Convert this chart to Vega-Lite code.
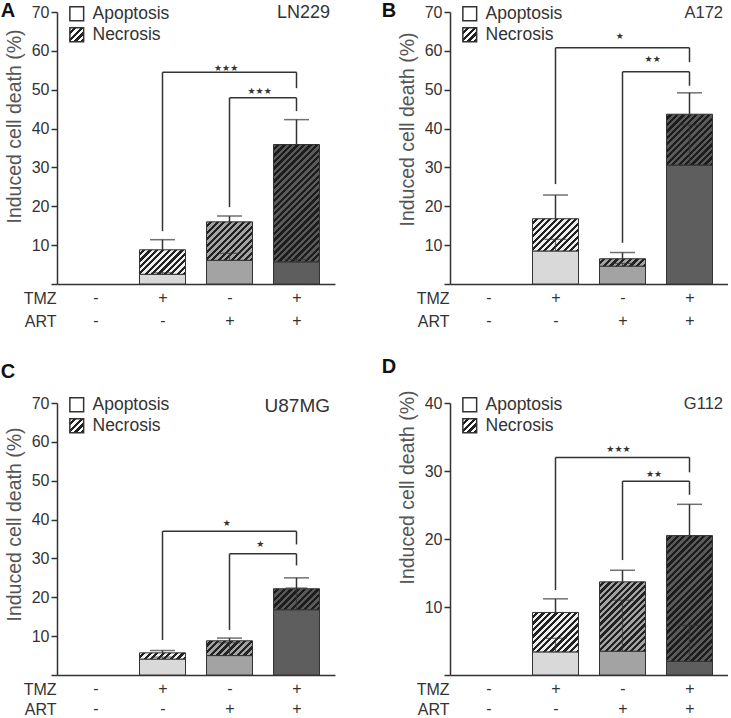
{
"$schema": "https://vega.github.io/schema/vega-lite/v6.json",
"padding": {"left": 0, "top": 1, "right": 0, "bottom": 0},
"bounds": "flush",
"columns": 2,
"spacing": {"row": 119, "column": 115},
"resolve": {"scale": {"shape": "independent"}},
"config": {
  "font": "Liberation Sans",
  "view": {"stroke": null},
  "axis": {"grid": false, "domainColor": "#333", "domainWidth": 1.5, "tickColor": "#333", "tickWidth": 1.5, "labelColor": "#333", "labelFontSize": 16, "titleColor": "#555", "titleFontWeight": "normal"},
  "axisX": {"ticks": false, "labelBaseline": "top", "labelPadding": 5, "labelLineHeight": 23, "labelFlush": false, "labelOverlap": false, "labelAngle": 0, "titleX": -1, "titleY": 6, "titleAlign": "right", "titleBaseline": "top", "titleAngle": 0, "titleFontSize": 16, "titleColor": "#333", "titleLineHeight": 23},
  "axisY": {"tickSize": 6, "labelPadding": 2, "labelOverlap": false, "labelFontSize": 16, "titleFontSize": 19.5, "titlePadding": 7},
  "legend": {"title": null, "orient": "none", "legendX": 11, "symbolSize": 190, "symbolType": "square", "symbolOpacity": 1, "labelFontSize": 17.5, "labelColor": "#333", "labelOffset": 7},
  "title": {"anchor": "start", "frame": "bounds", "fontSize": 20, "fontWeight": "bold", "color": "#111", "offset": 0, "baseline": "alphabetic"}
},
"datasets": {
  "bars": [
    {"panel":"A","x":2,"trt":"TMZ","apo":2.5,"tot":8.8,"et":11.4,"ie":2.9},
    {"panel":"A","x":3,"trt":"ART","apo":6.1,"tot":16.0,"et":17.5,"ie":7.9},
    {"panel":"A","x":4,"trt":"TMZ+ART","apo":5.7,"tot":35.9,"et":42.3,"ie":6.3},
    {"panel":"B","x":2,"trt":"TMZ","apo":8.5,"tot":16.8,"et":22.9,"ie":11.5},
    {"panel":"B","x":3,"trt":"ART","apo":4.6,"tot":6.5,"et":8.1,"ie":5.3},
    {"panel":"B","x":4,"trt":"TMZ+ART","apo":30.6,"tot":43.7,"et":49.2,"ie":40.9},
    {"panel":"C","x":2,"trt":"TMZ","apo":4.1,"tot":5.7,"et":6.3,"ie":4.6},
    {"panel":"C","x":3,"trt":"ART","apo":5.0,"tot":8.8,"et":9.5,"ie":8.3},
    {"panel":"C","x":4,"trt":"TMZ+ART","apo":16.8,"tot":22.2,"et":25.0,"ie":22.4},
    {"panel":"D","x":2,"trt":"TMZ","apo":3.4,"tot":9.2,"et":11.2,"ie":5.4},
    {"panel":"D","x":3,"trt":"ART","apo":3.5,"tot":13.7,"et":15.4,"ie":11.0},
    {"panel":"D","x":4,"trt":"TMZ+ART","apo":2.0,"tot":20.5,"et":25.1,"ie":7.3}
  ],
  "sig": [
    {"panel":"A","xa":2,"xb":4,"ya":13.6,"yb":50.4,"yh":54.5,"xm":2.95,"yl":55.7,"lab":"★★★"},
    {"panel":"A","xa":3,"xb":4,"ya":19.8,"yb":44.5,"yh":47.9,"xm":3.45,"yl":49.7,"lab":"★★★"},
    {"panel":"B","xa":2,"xb":4,"ya":25.7,"yb":57.1,"yh":60.8,"xm":2.96,"yl":63.8,"lab":"★"},
    {"panel":"B","xa":3,"xb":4,"ya":10.6,"yb":51.0,"yh":54.6,"xm":3.45,"yl":57.8,"lab":"★★"},
    {"panel":"C","xa":2,"xb":4,"ya":9.0,"yb":33.6,"yh":37.0,"xm":2.96,"yl":39.0,"lab":"★"},
    {"panel":"C","xa":3,"xb":4,"ya":11.6,"yb":28.2,"yh":31.2,"xm":3.46,"yl":33.6,"lab":"★"},
    {"panel":"D","xa":2,"xb":4,"ya":12.5,"yb":29.8,"yh":32.0,"xm":2.94,"yl":33.2,"lab":"★★★"},
    {"panel":"D","xa":3,"xb":4,"ya":16.9,"yb":26.5,"yh":28.5,"xm":3.47,"yl":29.6,"lab":"★★"}
  ],
  "cells": [
    {"panel":"A","cell":"LN229"},
    {"panel":"B","cell":"A172"},
    {"panel":"C","cell":"U87MG"},
    {"panel":"D","cell":"G112"}
  ],
  "key": [{"type":"Apoptosis"},{"type":"Necrosis"}]
},
"concat": [
{
  "title": {"text": "A", "dx": -3.5, "dy": 21},
  "width": 278, "height": 272,
  "resolve": {"scale": {"shape": "independent"}},
  "layer": [
    {
      "data": {"name": "bars"},
      "transform": [{"filter": "datum.panel == 'A'"}],
      "encoding": {"x": {"field": "x", "type": "quantitative", "scale": {"domain": [0.5, 4.5], "nice": false}, "axis": {"values": [1,2,3,4], "labelExpr": "datum.value == 1 ? ['-','-'] : datum.value == 2 ? ['+','-'] : datum.value == 3 ? ['-','+'] : ['+','+']", "title": ["TMZ","ART"]}}},
      "layer": [
        {"mark": {"type":"bar","width":46,"stroke":"#333","strokeWidth":1}, "encoding": {"y": {"field":"apo","type":"quantitative","scale":{"domain":[0,70],"nice":false},"axis":{"values":[0,10,20,30,40,50,60,70],"tickCount":10,"labelOverlap":false,"labelExpr":"datum.value == 0 ? '' : datum.label","title":"Induced cell death (%)","titleY":114}}, "color": {"field":"trt","type":"nominal","scale":{"domain":["TMZ","ART","TMZ+ART"],"range":["#d9d9d9","#a3a3a3","#5e5e5e"]},"legend":null}}},
        {"transform":[{"filter":"datum.trt == 'TMZ'"}], "mark": {"type":"bar","width":46,"stroke":"#333","strokeWidth":1,"fill":{"gradient":"linear","x1":0,"y1":0,"x2":1.194,"y2":0.635,"stops":[
{"offset":0,"color":"#eee"},
{"offset":0.0455,"color":"#eee"},{"offset":0.0455,"color":"#222"},
{"offset":0.0909,"color":"#222"},{"offset":0.0909,"color":"#eee"},
{"offset":0.1364,"color":"#eee"},{"offset":0.1364,"color":"#222"},
{"offset":0.1818,"color":"#222"},{"offset":0.1818,"color":"#eee"},
{"offset":0.2273,"color":"#eee"},{"offset":0.2273,"color":"#222"},
{"offset":0.2727,"color":"#222"},{"offset":0.2727,"color":"#eee"},
{"offset":0.3182,"color":"#eee"},{"offset":0.3182,"color":"#222"},
{"offset":0.3636,"color":"#222"},{"offset":0.3636,"color":"#eee"},
{"offset":0.4091,"color":"#eee"},{"offset":0.4091,"color":"#222"},
{"offset":0.4545,"color":"#222"},{"offset":0.4545,"color":"#eee"},
{"offset":0.5,"color":"#eee"},{"offset":0.5,"color":"#222"},
{"offset":0.5455,"color":"#222"},{"offset":0.5455,"color":"#eee"},
{"offset":0.5909,"color":"#eee"},{"offset":0.5909,"color":"#222"},
{"offset":0.6364,"color":"#222"},{"offset":0.6364,"color":"#eee"},
{"offset":0.6818,"color":"#eee"},{"offset":0.6818,"color":"#222"},
{"offset":0.7273,"color":"#222"},{"offset":0.7273,"color":"#eee"},
{"offset":0.7727,"color":"#eee"},{"offset":0.7727,"color":"#222"},
{"offset":0.8182,"color":"#222"},{"offset":0.8182,"color":"#eee"},
{"offset":0.8636,"color":"#eee"},{"offset":0.8636,"color":"#222"},
{"offset":0.9091,"color":"#222"},{"offset":0.9091,"color":"#eee"},
{"offset":0.9545,"color":"#eee"},{"offset":0.9545,"color":"#222"},
{"offset":1,"color":"#222"}]}}, "encoding": {"y":{"field":"tot","type":"quantitative"},"y2":{"field":"apo"}}},
        {"transform":[{"filter":"datum.trt == 'ART'"}], "mark": {"type":"bar","width":46,"stroke":"#333","strokeWidth":1,"fill":{"gradient":"linear","x1":0,"y1":0,"x2":1.081,"y2":0.904,"stops":[
{"offset":0,"color":"#a3a3a3"},
{"offset":0.0385,"color":"#a3a3a3"},{"offset":0.0385,"color":"#222"},
{"offset":0.0769,"color":"#222"},{"offset":0.0769,"color":"#a3a3a3"},
{"offset":0.1154,"color":"#a3a3a3"},{"offset":0.1154,"color":"#222"},
{"offset":0.1538,"color":"#222"},{"offset":0.1538,"color":"#a3a3a3"},
{"offset":0.1923,"color":"#a3a3a3"},{"offset":0.1923,"color":"#222"},
{"offset":0.2308,"color":"#222"},{"offset":0.2308,"color":"#a3a3a3"},
{"offset":0.2692,"color":"#a3a3a3"},{"offset":0.2692,"color":"#222"},
{"offset":0.3077,"color":"#222"},{"offset":0.3077,"color":"#a3a3a3"},
{"offset":0.3462,"color":"#a3a3a3"},{"offset":0.3462,"color":"#222"},
{"offset":0.3846,"color":"#222"},{"offset":0.3846,"color":"#a3a3a3"},
{"offset":0.4231,"color":"#a3a3a3"},{"offset":0.4231,"color":"#222"},
{"offset":0.4615,"color":"#222"},{"offset":0.4615,"color":"#a3a3a3"},
{"offset":0.5,"color":"#a3a3a3"},{"offset":0.5,"color":"#222"},
{"offset":0.5385,"color":"#222"},{"offset":0.5385,"color":"#a3a3a3"},
{"offset":0.5769,"color":"#a3a3a3"},{"offset":0.5769,"color":"#222"},
{"offset":0.6154,"color":"#222"},{"offset":0.6154,"color":"#a3a3a3"},
{"offset":0.6538,"color":"#a3a3a3"},{"offset":0.6538,"color":"#222"},
{"offset":0.6923,"color":"#222"},{"offset":0.6923,"color":"#a3a3a3"},
{"offset":0.7308,"color":"#a3a3a3"},{"offset":0.7308,"color":"#222"},
{"offset":0.7692,"color":"#222"},{"offset":0.7692,"color":"#a3a3a3"},
{"offset":0.8077,"color":"#a3a3a3"},{"offset":0.8077,"color":"#222"},
{"offset":0.8462,"color":"#222"},{"offset":0.8462,"color":"#a3a3a3"},
{"offset":0.8846,"color":"#a3a3a3"},{"offset":0.8846,"color":"#222"},
{"offset":0.9231,"color":"#222"},{"offset":0.9231,"color":"#a3a3a3"},
{"offset":0.9615,"color":"#a3a3a3"},{"offset":0.9615,"color":"#222"},
{"offset":1,"color":"#222"}]}}, "encoding": {"y":{"field":"tot","type":"quantitative"},"y2":{"field":"apo"}}},
        {"transform":[{"filter":"datum.trt == 'TMZ+ART'"}], "mark": {"type":"bar","width":46,"stroke":"#333","strokeWidth":1,"fill":{"gradient":"linear","x1":0,"y1":0,"x2":0.473,"y2":1.207,"stops":[
{"offset":0,"color":"#5a5a5a"},
{"offset":0.02,"color":"#5a5a5a"},{"offset":0.02,"color":"#1c1c1c"},
{"offset":0.04,"color":"#1c1c1c"},{"offset":0.04,"color":"#5a5a5a"},
{"offset":0.06,"color":"#5a5a5a"},{"offset":0.06,"color":"#1c1c1c"},
{"offset":0.08,"color":"#1c1c1c"},{"offset":0.08,"color":"#5a5a5a"},
{"offset":0.10,"color":"#5a5a5a"},{"offset":0.10,"color":"#1c1c1c"},
{"offset":0.12,"color":"#1c1c1c"},{"offset":0.12,"color":"#5a5a5a"},
{"offset":0.14,"color":"#5a5a5a"},{"offset":0.14,"color":"#1c1c1c"},
{"offset":0.16,"color":"#1c1c1c"},{"offset":0.16,"color":"#5a5a5a"},
{"offset":0.18,"color":"#5a5a5a"},{"offset":0.18,"color":"#1c1c1c"},
{"offset":0.20,"color":"#1c1c1c"},{"offset":0.20,"color":"#5a5a5a"},
{"offset":0.22,"color":"#5a5a5a"},{"offset":0.22,"color":"#1c1c1c"},
{"offset":0.24,"color":"#1c1c1c"},{"offset":0.24,"color":"#5a5a5a"},
{"offset":0.26,"color":"#5a5a5a"},{"offset":0.26,"color":"#1c1c1c"},
{"offset":0.28,"color":"#1c1c1c"},{"offset":0.28,"color":"#5a5a5a"},
{"offset":0.30,"color":"#5a5a5a"},{"offset":0.30,"color":"#1c1c1c"},
{"offset":0.32,"color":"#1c1c1c"},{"offset":0.32,"color":"#5a5a5a"},
{"offset":0.34,"color":"#5a5a5a"},{"offset":0.34,"color":"#1c1c1c"},
{"offset":0.36,"color":"#1c1c1c"},{"offset":0.36,"color":"#5a5a5a"},
{"offset":0.38,"color":"#5a5a5a"},{"offset":0.38,"color":"#1c1c1c"},
{"offset":0.40,"color":"#1c1c1c"},{"offset":0.40,"color":"#5a5a5a"},
{"offset":0.42,"color":"#5a5a5a"},{"offset":0.42,"color":"#1c1c1c"},
{"offset":0.44,"color":"#1c1c1c"},{"offset":0.44,"color":"#5a5a5a"},
{"offset":0.46,"color":"#5a5a5a"},{"offset":0.46,"color":"#1c1c1c"},
{"offset":0.48,"color":"#1c1c1c"},{"offset":0.48,"color":"#5a5a5a"},
{"offset":0.50,"color":"#5a5a5a"},{"offset":0.50,"color":"#1c1c1c"},
{"offset":0.52,"color":"#1c1c1c"},{"offset":0.52,"color":"#5a5a5a"},
{"offset":0.54,"color":"#5a5a5a"},{"offset":0.54,"color":"#1c1c1c"},
{"offset":0.56,"color":"#1c1c1c"},{"offset":0.56,"color":"#5a5a5a"},
{"offset":0.58,"color":"#5a5a5a"},{"offset":0.58,"color":"#1c1c1c"},
{"offset":0.60,"color":"#1c1c1c"},{"offset":0.60,"color":"#5a5a5a"},
{"offset":0.62,"color":"#5a5a5a"},{"offset":0.62,"color":"#1c1c1c"},
{"offset":0.64,"color":"#1c1c1c"},{"offset":0.64,"color":"#5a5a5a"},
{"offset":0.66,"color":"#5a5a5a"},{"offset":0.66,"color":"#1c1c1c"},
{"offset":0.68,"color":"#1c1c1c"},{"offset":0.68,"color":"#5a5a5a"},
{"offset":0.70,"color":"#5a5a5a"},{"offset":0.70,"color":"#1c1c1c"},
{"offset":0.72,"color":"#1c1c1c"},{"offset":0.72,"color":"#5a5a5a"},
{"offset":0.74,"color":"#5a5a5a"},{"offset":0.74,"color":"#1c1c1c"},
{"offset":0.76,"color":"#1c1c1c"},{"offset":0.76,"color":"#5a5a5a"},
{"offset":0.78,"color":"#5a5a5a"},{"offset":0.78,"color":"#1c1c1c"},
{"offset":0.80,"color":"#1c1c1c"},{"offset":0.80,"color":"#5a5a5a"},
{"offset":0.82,"color":"#5a5a5a"},{"offset":0.82,"color":"#1c1c1c"},
{"offset":0.84,"color":"#1c1c1c"},{"offset":0.84,"color":"#5a5a5a"},
{"offset":0.86,"color":"#5a5a5a"},{"offset":0.86,"color":"#1c1c1c"},
{"offset":0.88,"color":"#1c1c1c"},{"offset":0.88,"color":"#5a5a5a"},
{"offset":0.90,"color":"#5a5a5a"},{"offset":0.90,"color":"#1c1c1c"},
{"offset":0.92,"color":"#1c1c1c"},{"offset":0.92,"color":"#5a5a5a"},
{"offset":0.94,"color":"#5a5a5a"},{"offset":0.94,"color":"#1c1c1c"},
{"offset":0.96,"color":"#1c1c1c"},{"offset":0.96,"color":"#5a5a5a"},
{"offset":0.98,"color":"#5a5a5a"},{"offset":0.98,"color":"#1c1c1c"},
{"offset":1,"color":"#1c1c1c"}]}}, "encoding": {"y":{"field":"tot","type":"quantitative"},"y2":{"field":"apo"}}},
        {"mark": {"type":"rule","color":"#333","strokeWidth":1.2,"opacity":0.7}, "encoding": {"y":{"field":"apo","type":"quantitative"},"y2":{"field":"ie"}}},
        {"mark": {"type":"tick","orient":"horizontal","size":22,"thickness":1.2,"color":"#333","opacity":0.7}, "encoding": {"y":{"field":"ie","type":"quantitative"}}},
        {"mark": {"type":"rule","color":"#333","strokeWidth":1.5}, "encoding": {"y":{"field":"tot","type":"quantitative"},"y2":{"field":"et"}}},
        {"mark": {"type":"tick","orient":"horizontal","size":25,"thickness":1.5,"color":"#333"}, "encoding": {"y":{"field":"et","type":"quantitative"}}}
      ]
    },
    {
      "data": {"name": "sig"},
      "transform": [{"filter": "datum.panel == 'A'"}],
      "layer": [
        {"mark": {"type":"rule","color":"#333","strokeWidth":1.5}, "encoding": {"x":{"field":"xa","type":"quantitative"},"y":{"field":"ya","type":"quantitative"},"y2":{"field":"yh"}}},
        {"mark": {"type":"rule","color":"#333","strokeWidth":1.5}, "encoding": {"x":{"field":"xb","type":"quantitative"},"y":{"field":"yb","type":"quantitative"},"y2":{"field":"yh"}}},
        {"mark": {"type":"rule","color":"#333","strokeWidth":1.5}, "encoding": {"x":{"field":"xa","type":"quantitative"},"x2":{"field":"xb"},"y":{"field":"yh","type":"quantitative"}}},
        {"mark": {"type":"text","font":"DejaVu Sans","fontSize":9,"color":"#333","baseline":"middle"}, "encoding": {"x":{"field":"xm","type":"quantitative"},"y":{"field":"yl","type":"quantitative"},"text":{"field":"lab"}}}
      ]
    },
    {"data": {"name":"cells"}, "transform": [{"filter": "datum.panel == 'A'"}], "mark": {"type":"text","align":"right","baseline":"middle","fontSize":18,"color":"#333","dy":1}, "encoding": {"x":{"datum":4.5,"type":"quantitative"},"y":{"datum":70,"type":"quantitative"},"text":{"field":"cell"}}},
    {"data": {"name":"key"}, "transform":[{"filter":"false"}], "mark": {"type":"point","shape":"square","filled":true,"opacity":1,"fill":"#ffffff","stroke":"#333","strokeWidth":1}, "encoding": {"shape": {"field":"type","type":"nominal","scale":{"domain":["Apoptosis"],"range":["square"]},"legend":{"legendY":-7}}}},
    {"data": {"name":"key"}, "transform":[{"filter":"false"}], "mark": {"type":"point","shape":"square","filled":true,"opacity":1,"stroke":"#333","strokeWidth":1,"fill":{"gradient":"linear","x1":0,"y1":0,"x2":1,"y2":1,"stops":[
{"offset":0,"color":"#fff"},
{"offset":0.125,"color":"#fff"},{"offset":0.125,"color":"#222"},
{"offset":0.25,"color":"#222"},{"offset":0.25,"color":"#fff"},
{"offset":0.375,"color":"#fff"},{"offset":0.375,"color":"#222"},
{"offset":0.5,"color":"#222"},{"offset":0.5,"color":"#fff"},
{"offset":0.625,"color":"#fff"},{"offset":0.625,"color":"#222"},
{"offset":0.75,"color":"#222"},{"offset":0.75,"color":"#fff"},
{"offset":0.875,"color":"#fff"},{"offset":0.875,"color":"#222"},
{"offset":1,"color":"#222"}]}}, "encoding": {"shape": {"field":"type","type":"nominal","scale":{"domain":["Necrosis"],"range":["square"]},"legend":{"legendY":14}}}}
  ]
},
{
  "title": {"text": "B", "dx": -15.5, "dy": 21},
  "width": 278, "height": 272,
  "resolve": {"scale": {"shape": "independent"}},
  "layer": [
    {
      "data": {"name": "bars"},
      "transform": [{"filter": "datum.panel == 'B'"}],
      "encoding": {"x": {"field": "x", "type": "quantitative", "scale": {"domain": [0.5, 4.5], "nice": false}, "axis": {"values": [1,2,3,4], "labelExpr": "datum.value == 1 ? ['-','-'] : datum.value == 2 ? ['+','-'] : datum.value == 3 ? ['-','+'] : ['+','+']", "title": ["TMZ","ART"]}}},
      "layer": [
        {"mark": {"type":"bar","width":46,"stroke":"#333","strokeWidth":1}, "encoding": {"y": {"field":"apo","type":"quantitative","scale":{"domain":[0,70],"nice":false},"axis":{"values":[0,10,20,30,40,50,60,70],"tickCount":10,"labelOverlap":false,"labelExpr":"datum.value == 0 ? '' : datum.label","title":"Induced cell death (%)","titleY":117}}, "color": {"field":"trt","type":"nominal","scale":{"domain":["TMZ","ART","TMZ+ART"],"range":["#d9d9d9","#a3a3a3","#5e5e5e"]},"legend":null}}},
        {"transform":[{"filter":"datum.trt == 'TMZ'"}], "mark": {"type":"bar","width":46,"stroke":"#333","strokeWidth":1,"fill":{"gradient":"linear","x1":0,"y1":0,"x2":1.141,"y2":0.800,"stops":[
{"offset":0,"color":"#eee"},
{"offset":0.0417,"color":"#eee"},{"offset":0.0417,"color":"#222"},
{"offset":0.0833,"color":"#222"},{"offset":0.0833,"color":"#eee"},
{"offset":0.125,"color":"#eee"},{"offset":0.125,"color":"#222"},
{"offset":0.1667,"color":"#222"},{"offset":0.1667,"color":"#eee"},
{"offset":0.2083,"color":"#eee"},{"offset":0.2083,"color":"#222"},
{"offset":0.25,"color":"#222"},{"offset":0.25,"color":"#eee"},
{"offset":0.2917,"color":"#eee"},{"offset":0.2917,"color":"#222"},
{"offset":0.3333,"color":"#222"},{"offset":0.3333,"color":"#eee"},
{"offset":0.375,"color":"#eee"},{"offset":0.375,"color":"#222"},
{"offset":0.4167,"color":"#222"},{"offset":0.4167,"color":"#eee"},
{"offset":0.4583,"color":"#eee"},{"offset":0.4583,"color":"#222"},
{"offset":0.5,"color":"#222"},{"offset":0.5,"color":"#eee"},
{"offset":0.5417,"color":"#eee"},{"offset":0.5417,"color":"#222"},
{"offset":0.5833,"color":"#222"},{"offset":0.5833,"color":"#eee"},
{"offset":0.625,"color":"#eee"},{"offset":0.625,"color":"#222"},
{"offset":0.6667,"color":"#222"},{"offset":0.6667,"color":"#eee"},
{"offset":0.7083,"color":"#eee"},{"offset":0.7083,"color":"#222"},
{"offset":0.75,"color":"#222"},{"offset":0.75,"color":"#eee"},
{"offset":0.7917,"color":"#eee"},{"offset":0.7917,"color":"#222"},
{"offset":0.8333,"color":"#222"},{"offset":0.8333,"color":"#eee"},
{"offset":0.875,"color":"#eee"},{"offset":0.875,"color":"#222"},
{"offset":0.9167,"color":"#222"},{"offset":0.9167,"color":"#eee"},
{"offset":0.9583,"color":"#eee"},{"offset":0.9583,"color":"#222"},
{"offset":1,"color":"#222"}]}}, "encoding": {"y":{"field":"tot","type":"quantitative"},"y2":{"field":"apo"}}},
        {"transform":[{"filter":"datum.trt == 'ART'"}], "mark": {"type":"bar","width":46,"stroke":"#333","strokeWidth":1,"fill":{"gradient":"linear","x1":0,"y1":0,"x2":1.131,"y2":0.182,"stops":[
{"offset":0,"color":"#a3a3a3"},
{"offset":0.0625,"color":"#a3a3a3"},{"offset":0.0625,"color":"#222"},
{"offset":0.125,"color":"#222"},{"offset":0.125,"color":"#a3a3a3"},
{"offset":0.1875,"color":"#a3a3a3"},{"offset":0.1875,"color":"#222"},
{"offset":0.25,"color":"#222"},{"offset":0.25,"color":"#a3a3a3"},
{"offset":0.3125,"color":"#a3a3a3"},{"offset":0.3125,"color":"#222"},
{"offset":0.375,"color":"#222"},{"offset":0.375,"color":"#a3a3a3"},
{"offset":0.4375,"color":"#a3a3a3"},{"offset":0.4375,"color":"#222"},
{"offset":0.5,"color":"#222"},{"offset":0.5,"color":"#a3a3a3"},
{"offset":0.5625,"color":"#a3a3a3"},{"offset":0.5625,"color":"#222"},
{"offset":0.625,"color":"#222"},{"offset":0.625,"color":"#a3a3a3"},
{"offset":0.6875,"color":"#a3a3a3"},{"offset":0.6875,"color":"#222"},
{"offset":0.75,"color":"#222"},{"offset":0.75,"color":"#a3a3a3"},
{"offset":0.8125,"color":"#a3a3a3"},{"offset":0.8125,"color":"#222"},
{"offset":0.875,"color":"#222"},{"offset":0.875,"color":"#a3a3a3"},
{"offset":0.9375,"color":"#a3a3a3"},{"offset":0.9375,"color":"#222"},
{"offset":1,"color":"#222"}]}}, "encoding": {"y":{"field":"tot","type":"quantitative"},"y2":{"field":"apo"}}},
        {"transform":[{"filter":"datum.trt == 'TMZ+ART'"}], "mark": {"type":"bar","width":46,"stroke":"#333","strokeWidth":1,"fill":{"gradient":"linear","x1":0,"y1":0,"x2":0.947,"y2":1.048,"stops":[
{"offset":0,"color":"#5a5a5a"},
{"offset":0.0333,"color":"#5a5a5a"},{"offset":0.0333,"color":"#1c1c1c"},
{"offset":0.0667,"color":"#1c1c1c"},{"offset":0.0667,"color":"#5a5a5a"},
{"offset":0.1,"color":"#5a5a5a"},{"offset":0.1,"color":"#1c1c1c"},
{"offset":0.1333,"color":"#1c1c1c"},{"offset":0.1333,"color":"#5a5a5a"},
{"offset":0.1667,"color":"#5a5a5a"},{"offset":0.1667,"color":"#1c1c1c"},
{"offset":0.2,"color":"#1c1c1c"},{"offset":0.2,"color":"#5a5a5a"},
{"offset":0.2333,"color":"#5a5a5a"},{"offset":0.2333,"color":"#1c1c1c"},
{"offset":0.2667,"color":"#1c1c1c"},{"offset":0.2667,"color":"#5a5a5a"},
{"offset":0.3,"color":"#5a5a5a"},{"offset":0.3,"color":"#1c1c1c"},
{"offset":0.3333,"color":"#1c1c1c"},{"offset":0.3333,"color":"#5a5a5a"},
{"offset":0.3667,"color":"#5a5a5a"},{"offset":0.3667,"color":"#1c1c1c"},
{"offset":0.4,"color":"#1c1c1c"},{"offset":0.4,"color":"#5a5a5a"},
{"offset":0.4333,"color":"#5a5a5a"},{"offset":0.4333,"color":"#1c1c1c"},
{"offset":0.4667,"color":"#1c1c1c"},{"offset":0.4667,"color":"#5a5a5a"},
{"offset":0.5,"color":"#5a5a5a"},{"offset":0.5,"color":"#1c1c1c"},
{"offset":0.5333,"color":"#1c1c1c"},{"offset":0.5333,"color":"#5a5a5a"},
{"offset":0.5667,"color":"#5a5a5a"},{"offset":0.5667,"color":"#1c1c1c"},
{"offset":0.6,"color":"#1c1c1c"},{"offset":0.6,"color":"#5a5a5a"},
{"offset":0.6333,"color":"#5a5a5a"},{"offset":0.6333,"color":"#1c1c1c"},
{"offset":0.6667,"color":"#1c1c1c"},{"offset":0.6667,"color":"#5a5a5a"},
{"offset":0.7,"color":"#5a5a5a"},{"offset":0.7,"color":"#1c1c1c"},
{"offset":0.7333,"color":"#1c1c1c"},{"offset":0.7333,"color":"#5a5a5a"},
{"offset":0.7667,"color":"#5a5a5a"},{"offset":0.7667,"color":"#1c1c1c"},
{"offset":0.8,"color":"#1c1c1c"},{"offset":0.8,"color":"#5a5a5a"},
{"offset":0.8333,"color":"#5a5a5a"},{"offset":0.8333,"color":"#1c1c1c"},
{"offset":0.8667,"color":"#1c1c1c"},{"offset":0.8667,"color":"#5a5a5a"},
{"offset":0.9,"color":"#5a5a5a"},{"offset":0.9,"color":"#1c1c1c"},
{"offset":0.9333,"color":"#1c1c1c"},{"offset":0.9333,"color":"#5a5a5a"},
{"offset":0.9667,"color":"#5a5a5a"},{"offset":0.9667,"color":"#1c1c1c"},
{"offset":1,"color":"#1c1c1c"}]}}, "encoding": {"y":{"field":"tot","type":"quantitative"},"y2":{"field":"apo"}}},
        {"mark": {"type":"rule","color":"#333","strokeWidth":1.2,"opacity":0.7}, "encoding": {"y":{"field":"apo","type":"quantitative"},"y2":{"field":"ie"}}},
        {"mark": {"type":"tick","orient":"horizontal","size":22,"thickness":1.2,"color":"#333","opacity":0.7}, "encoding": {"y":{"field":"ie","type":"quantitative"}}},
        {"mark": {"type":"rule","color":"#333","strokeWidth":1.5}, "encoding": {"y":{"field":"tot","type":"quantitative"},"y2":{"field":"et"}}},
        {"mark": {"type":"tick","orient":"horizontal","size":25,"thickness":1.5,"color":"#333"}, "encoding": {"y":{"field":"et","type":"quantitative"}}}
      ]
    },
    {
      "data": {"name": "sig"},
      "transform": [{"filter": "datum.panel == 'B'"}],
      "layer": [
        {"mark": {"type":"rule","color":"#333","strokeWidth":1.5}, "encoding": {"x":{"field":"xa","type":"quantitative"},"y":{"field":"ya","type":"quantitative"},"y2":{"field":"yh"}}},
        {"mark": {"type":"rule","color":"#333","strokeWidth":1.5}, "encoding": {"x":{"field":"xb","type":"quantitative"},"y":{"field":"yb","type":"quantitative"},"y2":{"field":"yh"}}},
        {"mark": {"type":"rule","color":"#333","strokeWidth":1.5}, "encoding": {"x":{"field":"xa","type":"quantitative"},"x2":{"field":"xb"},"y":{"field":"yh","type":"quantitative"}}},
        {"mark": {"type":"text","font":"DejaVu Sans","fontSize":9,"color":"#333","baseline":"middle"}, "encoding": {"x":{"field":"xm","type":"quantitative"},"y":{"field":"yl","type":"quantitative"},"text":{"field":"lab"}}}
      ]
    },
    {"data": {"name":"cells"}, "transform": [{"filter": "datum.panel == 'B'"}], "mark": {"type":"text","align":"right","baseline":"middle","fontSize":16.5,"color":"#333","dy":1}, "encoding": {"x":{"datum":4.5,"type":"quantitative"},"y":{"datum":70,"type":"quantitative"},"text":{"field":"cell"}}},
    {"data": {"name":"key"}, "transform":[{"filter":"false"}], "mark": {"type":"point","shape":"square","filled":true,"opacity":1,"fill":"#ffffff","stroke":"#333","strokeWidth":1}, "encoding": {"shape": {"field":"type","type":"nominal","scale":{"domain":["Apoptosis"],"range":["square"]},"legend":{"legendY":-7}}}},
    {"data": {"name":"key"}, "transform":[{"filter":"false"}], "mark": {"type":"point","shape":"square","filled":true,"opacity":1,"stroke":"#333","strokeWidth":1,"fill":{"gradient":"linear","x1":0,"y1":0,"x2":1,"y2":1,"stops":[
{"offset":0,"color":"#fff"},
{"offset":0.125,"color":"#fff"},{"offset":0.125,"color":"#222"},
{"offset":0.25,"color":"#222"},{"offset":0.25,"color":"#fff"},
{"offset":0.375,"color":"#fff"},{"offset":0.375,"color":"#222"},
{"offset":0.5,"color":"#222"},{"offset":0.5,"color":"#fff"},
{"offset":0.625,"color":"#fff"},{"offset":0.625,"color":"#222"},
{"offset":0.75,"color":"#222"},{"offset":0.75,"color":"#fff"},
{"offset":0.875,"color":"#fff"},{"offset":0.875,"color":"#222"},
{"offset":1,"color":"#222"}]}}, "encoding": {"shape": {"field":"type","type":"nominal","scale":{"domain":["Necrosis"],"range":["square"]},"legend":{"legendY":14}}}}
  ]
},
{
  "title": {"text": "C", "dx": -3.5, "offset": 13},
  "width": 278, "height": 272,
  "resolve": {"scale": {"shape": "independent"}},
  "layer": [
    {
      "data": {"name": "bars"},
      "transform": [{"filter": "datum.panel == 'C'"}],
      "encoding": {"x": {"field": "x", "type": "quantitative", "scale": {"domain": [0.5, 4.5], "nice": false}, "axis": {"values": [1,2,3,4], "labelLineHeight": 20, "titleLineHeight": 20, "labelExpr": "datum.value == 1 ? ['-','-'] : datum.value == 2 ? ['+','-'] : datum.value == 3 ? ['-','+'] : ['+','+']", "title": ["TMZ","ART"]}}},
      "layer": [
        {"mark": {"type":"bar","width":46,"stroke":"#333","strokeWidth":1}, "encoding": {"y": {"field":"apo","type":"quantitative","scale":{"domain":[0,70],"nice":false},"axis":{"values":[0,10,20,30,40,50,60,70],"tickCount":10,"labelOverlap":false,"labelExpr":"datum.value == 0 ? '' : datum.label","title":"Induced cell death (%)","titleY":121}}, "color": {"field":"trt","type":"nominal","scale":{"domain":["TMZ","ART","TMZ+ART"],"range":["#d9d9d9","#a3a3a3","#5e5e5e"]},"legend":null}}},
        {"transform":[{"filter":"datum.trt == 'TMZ'"}], "mark": {"type":"bar","width":46,"stroke":"#333","strokeWidth":1,"fill":{"gradient":"linear","x1":0,"y1":0,"x2":1.115,"y2":0.151,"stops":[
{"offset":0,"color":"#eee"},
{"offset":0.0625,"color":"#eee"},{"offset":0.0625,"color":"#222"},
{"offset":0.125,"color":"#222"},{"offset":0.125,"color":"#eee"},
{"offset":0.1875,"color":"#eee"},{"offset":0.1875,"color":"#222"},
{"offset":0.25,"color":"#222"},{"offset":0.25,"color":"#eee"},
{"offset":0.3125,"color":"#eee"},{"offset":0.3125,"color":"#222"},
{"offset":0.375,"color":"#222"},{"offset":0.375,"color":"#eee"},
{"offset":0.4375,"color":"#eee"},{"offset":0.4375,"color":"#222"},
{"offset":0.5,"color":"#222"},{"offset":0.5,"color":"#eee"},
{"offset":0.5625,"color":"#eee"},{"offset":0.5625,"color":"#222"},
{"offset":0.625,"color":"#222"},{"offset":0.625,"color":"#eee"},
{"offset":0.6875,"color":"#eee"},{"offset":0.6875,"color":"#222"},
{"offset":0.75,"color":"#222"},{"offset":0.75,"color":"#eee"},
{"offset":0.8125,"color":"#eee"},{"offset":0.8125,"color":"#222"},
{"offset":0.875,"color":"#222"},{"offset":0.875,"color":"#eee"},
{"offset":0.9375,"color":"#eee"},{"offset":0.9375,"color":"#222"},
{"offset":1,"color":"#222"}]}}, "encoding": {"y":{"field":"tot","type":"quantitative"},"y2":{"field":"apo"}}},
        {"transform":[{"filter":"datum.trt == 'ART'"}], "mark": {"type":"bar","width":46,"stroke":"#333","strokeWidth":1,"fill":{"gradient":"linear","x1":0,"y1":0,"x2":1.198,"y2":0.385,"stops":[
{"offset":0,"color":"#a3a3a3"},
{"offset":0.0556,"color":"#a3a3a3"},{"offset":0.0556,"color":"#222"},
{"offset":0.1111,"color":"#222"},{"offset":0.1111,"color":"#a3a3a3"},
{"offset":0.1667,"color":"#a3a3a3"},{"offset":0.1667,"color":"#222"},
{"offset":0.2222,"color":"#222"},{"offset":0.2222,"color":"#a3a3a3"},
{"offset":0.2778,"color":"#a3a3a3"},{"offset":0.2778,"color":"#222"},
{"offset":0.3333,"color":"#222"},{"offset":0.3333,"color":"#a3a3a3"},
{"offset":0.3889,"color":"#a3a3a3"},{"offset":0.3889,"color":"#222"},
{"offset":0.4444,"color":"#222"},{"offset":0.4444,"color":"#a3a3a3"},
{"offset":0.5,"color":"#a3a3a3"},{"offset":0.5,"color":"#222"},
{"offset":0.5556,"color":"#222"},{"offset":0.5556,"color":"#a3a3a3"},
{"offset":0.6111,"color":"#a3a3a3"},{"offset":0.6111,"color":"#222"},
{"offset":0.6667,"color":"#222"},{"offset":0.6667,"color":"#a3a3a3"},
{"offset":0.7222,"color":"#a3a3a3"},{"offset":0.7222,"color":"#222"},
{"offset":0.7778,"color":"#222"},{"offset":0.7778,"color":"#a3a3a3"},
{"offset":0.8333,"color":"#a3a3a3"},{"offset":0.8333,"color":"#222"},
{"offset":0.8889,"color":"#222"},{"offset":0.8889,"color":"#a3a3a3"},
{"offset":0.9444,"color":"#a3a3a3"},{"offset":0.9444,"color":"#222"},
{"offset":1,"color":"#222"}]}}, "encoding": {"y":{"field":"tot","type":"quantitative"},"y2":{"field":"apo"}}},
        {"transform":[{"filter":"datum.trt == 'TMZ+ART'"}], "mark": {"type":"bar","width":46,"stroke":"#333","strokeWidth":1,"fill":{"gradient":"linear","x1":0,"y1":0,"x2":1.205,"y2":0.550,"stops":[
{"offset":0,"color":"#5a5a5a"},
{"offset":0.05,"color":"#5a5a5a"},{"offset":0.05,"color":"#1c1c1c"},
{"offset":0.1,"color":"#1c1c1c"},{"offset":0.1,"color":"#5a5a5a"},
{"offset":0.15,"color":"#5a5a5a"},{"offset":0.15,"color":"#1c1c1c"},
{"offset":0.2,"color":"#1c1c1c"},{"offset":0.2,"color":"#5a5a5a"},
{"offset":0.25,"color":"#5a5a5a"},{"offset":0.25,"color":"#1c1c1c"},
{"offset":0.3,"color":"#1c1c1c"},{"offset":0.3,"color":"#5a5a5a"},
{"offset":0.35,"color":"#5a5a5a"},{"offset":0.35,"color":"#1c1c1c"},
{"offset":0.4,"color":"#1c1c1c"},{"offset":0.4,"color":"#5a5a5a"},
{"offset":0.45,"color":"#5a5a5a"},{"offset":0.45,"color":"#1c1c1c"},
{"offset":0.5,"color":"#1c1c1c"},{"offset":0.5,"color":"#5a5a5a"},
{"offset":0.55,"color":"#5a5a5a"},{"offset":0.55,"color":"#1c1c1c"},
{"offset":0.6,"color":"#1c1c1c"},{"offset":0.6,"color":"#5a5a5a"},
{"offset":0.65,"color":"#5a5a5a"},{"offset":0.65,"color":"#1c1c1c"},
{"offset":0.7,"color":"#1c1c1c"},{"offset":0.7,"color":"#5a5a5a"},
{"offset":0.75,"color":"#5a5a5a"},{"offset":0.75,"color":"#1c1c1c"},
{"offset":0.8,"color":"#1c1c1c"},{"offset":0.8,"color":"#5a5a5a"},
{"offset":0.85,"color":"#5a5a5a"},{"offset":0.85,"color":"#1c1c1c"},
{"offset":0.9,"color":"#1c1c1c"},{"offset":0.9,"color":"#5a5a5a"},
{"offset":0.95,"color":"#5a5a5a"},{"offset":0.95,"color":"#1c1c1c"},
{"offset":1,"color":"#1c1c1c"}]}}, "encoding": {"y":{"field":"tot","type":"quantitative"},"y2":{"field":"apo"}}},
        {"mark": {"type":"rule","color":"#333","strokeWidth":1.2,"opacity":0.7}, "encoding": {"y":{"field":"apo","type":"quantitative"},"y2":{"field":"ie"}}},
        {"mark": {"type":"tick","orient":"horizontal","size":22,"thickness":1.2,"color":"#333","opacity":0.7}, "encoding": {"y":{"field":"ie","type":"quantitative"}}},
        {"mark": {"type":"rule","color":"#333","strokeWidth":1.5}, "encoding": {"y":{"field":"tot","type":"quantitative"},"y2":{"field":"et"}}},
        {"mark": {"type":"tick","orient":"horizontal","size":25,"thickness":1.5,"color":"#333"}, "encoding": {"y":{"field":"et","type":"quantitative"}}}
      ]
    },
    {
      "data": {"name": "sig"},
      "transform": [{"filter": "datum.panel == 'C'"}],
      "layer": [
        {"mark": {"type":"rule","color":"#333","strokeWidth":1.5}, "encoding": {"x":{"field":"xa","type":"quantitative"},"y":{"field":"ya","type":"quantitative"},"y2":{"field":"yh"}}},
        {"mark": {"type":"rule","color":"#333","strokeWidth":1.5}, "encoding": {"x":{"field":"xb","type":"quantitative"},"y":{"field":"yb","type":"quantitative"},"y2":{"field":"yh"}}},
        {"mark": {"type":"rule","color":"#333","strokeWidth":1.5}, "encoding": {"x":{"field":"xa","type":"quantitative"},"x2":{"field":"xb"},"y":{"field":"yh","type":"quantitative"}}},
        {"mark": {"type":"text","font":"DejaVu Sans","fontSize":9,"color":"#333","baseline":"middle"}, "encoding": {"x":{"field":"xm","type":"quantitative"},"y":{"field":"yl","type":"quantitative"},"text":{"field":"lab"}}}
      ]
    },
    {"data": {"name":"cells"}, "transform": [{"filter": "datum.panel == 'C'"}], "mark": {"type":"text","align":"right","baseline":"middle","fontSize":19,"color":"#333","dy":3}, "encoding": {"x":{"datum":4.5,"type":"quantitative"},"y":{"datum":70,"type":"quantitative"},"text":{"field":"cell"}}},
    {"data": {"name":"key"}, "transform":[{"filter":"false"}], "mark": {"type":"point","shape":"square","filled":true,"opacity":1,"fill":"#ffffff","stroke":"#333","strokeWidth":1}, "encoding": {"shape": {"field":"type","type":"nominal","scale":{"domain":["Apoptosis"],"range":["square"]},"legend":{"legendY":-7}}}},
    {"data": {"name":"key"}, "transform":[{"filter":"false"}], "mark": {"type":"point","shape":"square","filled":true,"opacity":1,"stroke":"#333","strokeWidth":1,"fill":{"gradient":"linear","x1":0,"y1":0,"x2":1,"y2":1,"stops":[
{"offset":0,"color":"#fff"},
{"offset":0.125,"color":"#fff"},{"offset":0.125,"color":"#222"},
{"offset":0.25,"color":"#222"},{"offset":0.25,"color":"#fff"},
{"offset":0.375,"color":"#fff"},{"offset":0.375,"color":"#222"},
{"offset":0.5,"color":"#222"},{"offset":0.5,"color":"#fff"},
{"offset":0.625,"color":"#fff"},{"offset":0.625,"color":"#222"},
{"offset":0.75,"color":"#222"},{"offset":0.75,"color":"#fff"},
{"offset":0.875,"color":"#fff"},{"offset":0.875,"color":"#222"},
{"offset":1,"color":"#222"}]}}, "encoding": {"shape": {"field":"type","type":"nominal","scale":{"domain":["Necrosis"],"range":["square"]},"legend":{"legendY":14}}}}
  ]
},
{
  "title": {"text": "D", "dx": -15.5, "offset": 13},
  "width": 278, "height": 272,
  "resolve": {"scale": {"shape": "independent"}},
  "layer": [
    {
      "data": {"name": "bars"},
      "transform": [{"filter": "datum.panel == 'D'"}],
      "encoding": {"x": {"field": "x", "type": "quantitative", "scale": {"domain": [0.5, 4.5], "nice": false}, "axis": {"values": [1,2,3,4], "labelLineHeight": 20, "titleLineHeight": 20, "labelExpr": "datum.value == 1 ? ['-','-'] : datum.value == 2 ? ['+','-'] : datum.value == 3 ? ['-','+'] : ['+','+']", "title": ["TMZ","ART"]}}},
      "layer": [
        {"mark": {"type":"bar","width":46,"stroke":"#333","strokeWidth":1}, "encoding": {"y": {"field":"apo","type":"quantitative","scale":{"domain":[0,40],"nice":false},"axis":{"values":[0,10,20,30,40],"tickCount":10,"labelOverlap":false,"labelExpr":"datum.value == 0 ? '' : datum.label","title":"Induced cell death (%)","titleY":84}}, "color": {"field":"trt","type":"nominal","scale":{"domain":["TMZ","ART","TMZ+ART"],"range":["#d9d9d9","#a3a3a3","#5e5e5e"]},"legend":null}}},
        {"transform":[{"filter":"datum.trt == 'TMZ'"}], "mark": {"type":"bar","width":46,"stroke":"#333","strokeWidth":1,"fill":{"gradient":"linear","x1":0,"y1":0,"x2":1.071,"y2":0.918,"stops":[
{"offset":0,"color":"#eee"},
{"offset":0.0385,"color":"#eee"},{"offset":0.0385,"color":"#222"},
{"offset":0.0769,"color":"#222"},{"offset":0.0769,"color":"#eee"},
{"offset":0.1154,"color":"#eee"},{"offset":0.1154,"color":"#222"},
{"offset":0.1538,"color":"#222"},{"offset":0.1538,"color":"#eee"},
{"offset":0.1923,"color":"#eee"},{"offset":0.1923,"color":"#222"},
{"offset":0.2308,"color":"#222"},{"offset":0.2308,"color":"#eee"},
{"offset":0.2692,"color":"#eee"},{"offset":0.2692,"color":"#222"},
{"offset":0.3077,"color":"#222"},{"offset":0.3077,"color":"#eee"},
{"offset":0.3462,"color":"#eee"},{"offset":0.3462,"color":"#222"},
{"offset":0.3846,"color":"#222"},{"offset":0.3846,"color":"#eee"},
{"offset":0.4231,"color":"#eee"},{"offset":0.4231,"color":"#222"},
{"offset":0.4615,"color":"#222"},{"offset":0.4615,"color":"#eee"},
{"offset":0.5,"color":"#eee"},{"offset":0.5,"color":"#222"},
{"offset":0.5385,"color":"#222"},{"offset":0.5385,"color":"#eee"},
{"offset":0.5769,"color":"#eee"},{"offset":0.5769,"color":"#222"},
{"offset":0.6154,"color":"#222"},{"offset":0.6154,"color":"#eee"},
{"offset":0.6538,"color":"#eee"},{"offset":0.6538,"color":"#222"},
{"offset":0.6923,"color":"#222"},{"offset":0.6923,"color":"#eee"},
{"offset":0.7308,"color":"#eee"},{"offset":0.7308,"color":"#222"},
{"offset":0.7692,"color":"#222"},{"offset":0.7692,"color":"#eee"},
{"offset":0.8077,"color":"#eee"},{"offset":0.8077,"color":"#222"},
{"offset":0.8462,"color":"#222"},{"offset":0.8462,"color":"#eee"},
{"offset":0.8846,"color":"#eee"},{"offset":0.8846,"color":"#222"},
{"offset":0.9231,"color":"#222"},{"offset":0.9231,"color":"#eee"},
{"offset":0.9615,"color":"#eee"},{"offset":0.9615,"color":"#222"},
{"offset":1,"color":"#222"}]}}, "encoding": {"y":{"field":"tot","type":"quantitative"},"y2":{"field":"apo"}}},
        {"transform":[{"filter":"datum.trt == 'ART'"}], "mark": {"type":"bar","width":46,"stroke":"#333","strokeWidth":1,"fill":{"gradient":"linear","x1":0,"y1":0,"x2":0.766,"y2":1.155,"stops":[
{"offset":0,"color":"#a3a3a3"},
{"offset":0.0278,"color":"#a3a3a3"},{"offset":0.0278,"color":"#222"},
{"offset":0.0556,"color":"#222"},{"offset":0.0556,"color":"#a3a3a3"},
{"offset":0.0833,"color":"#a3a3a3"},{"offset":0.0833,"color":"#222"},
{"offset":0.1111,"color":"#222"},{"offset":0.1111,"color":"#a3a3a3"},
{"offset":0.1389,"color":"#a3a3a3"},{"offset":0.1389,"color":"#222"},
{"offset":0.1667,"color":"#222"},{"offset":0.1667,"color":"#a3a3a3"},
{"offset":0.1944,"color":"#a3a3a3"},{"offset":0.1944,"color":"#222"},
{"offset":0.2222,"color":"#222"},{"offset":0.2222,"color":"#a3a3a3"},
{"offset":0.25,"color":"#a3a3a3"},{"offset":0.25,"color":"#222"},
{"offset":0.2778,"color":"#222"},{"offset":0.2778,"color":"#a3a3a3"},
{"offset":0.3056,"color":"#a3a3a3"},{"offset":0.3056,"color":"#222"},
{"offset":0.3333,"color":"#222"},{"offset":0.3333,"color":"#a3a3a3"},
{"offset":0.3611,"color":"#a3a3a3"},{"offset":0.3611,"color":"#222"},
{"offset":0.3889,"color":"#222"},{"offset":0.3889,"color":"#a3a3a3"},
{"offset":0.4167,"color":"#a3a3a3"},{"offset":0.4167,"color":"#222"},
{"offset":0.4444,"color":"#222"},{"offset":0.4444,"color":"#a3a3a3"},
{"offset":0.4722,"color":"#a3a3a3"},{"offset":0.4722,"color":"#222"},
{"offset":0.5,"color":"#222"},{"offset":0.5,"color":"#a3a3a3"},
{"offset":0.5278,"color":"#a3a3a3"},{"offset":0.5278,"color":"#222"},
{"offset":0.5556,"color":"#222"},{"offset":0.5556,"color":"#a3a3a3"},
{"offset":0.5833,"color":"#a3a3a3"},{"offset":0.5833,"color":"#222"},
{"offset":0.6111,"color":"#222"},{"offset":0.6111,"color":"#a3a3a3"},
{"offset":0.6389,"color":"#a3a3a3"},{"offset":0.6389,"color":"#222"},
{"offset":0.6667,"color":"#222"},{"offset":0.6667,"color":"#a3a3a3"},
{"offset":0.6944,"color":"#a3a3a3"},{"offset":0.6944,"color":"#222"},
{"offset":0.7222,"color":"#222"},{"offset":0.7222,"color":"#a3a3a3"},
{"offset":0.75,"color":"#a3a3a3"},{"offset":0.75,"color":"#222"},
{"offset":0.7778,"color":"#222"},{"offset":0.7778,"color":"#a3a3a3"},
{"offset":0.8056,"color":"#a3a3a3"},{"offset":0.8056,"color":"#222"},
{"offset":0.8333,"color":"#222"},{"offset":0.8333,"color":"#a3a3a3"},
{"offset":0.8611,"color":"#a3a3a3"},{"offset":0.8611,"color":"#222"},
{"offset":0.8889,"color":"#222"},{"offset":0.8889,"color":"#a3a3a3"},
{"offset":0.9167,"color":"#a3a3a3"},{"offset":0.9167,"color":"#222"},
{"offset":0.9444,"color":"#222"},{"offset":0.9444,"color":"#a3a3a3"},
{"offset":0.9722,"color":"#a3a3a3"},{"offset":0.9722,"color":"#222"},
{"offset":1,"color":"#222"}]}}, "encoding": {"y":{"field":"tot","type":"quantitative"},"y2":{"field":"apo"}}},
        {"transform":[{"filter":"datum.trt == 'TMZ+ART'"}], "mark": {"type":"bar","width":46,"stroke":"#333","strokeWidth":1,"fill":{"gradient":"linear","x1":0,"y1":0,"x2":0.441,"y2":1.205,"stops":[
{"offset":0,"color":"#5a5a5a"},
{"offset":0.0192,"color":"#5a5a5a"},{"offset":0.0192,"color":"#1c1c1c"},
{"offset":0.0385,"color":"#1c1c1c"},{"offset":0.0385,"color":"#5a5a5a"},
{"offset":0.0577,"color":"#5a5a5a"},{"offset":0.0577,"color":"#1c1c1c"},
{"offset":0.0769,"color":"#1c1c1c"},{"offset":0.0769,"color":"#5a5a5a"},
{"offset":0.0962,"color":"#5a5a5a"},{"offset":0.0962,"color":"#1c1c1c"},
{"offset":0.1154,"color":"#1c1c1c"},{"offset":0.1154,"color":"#5a5a5a"},
{"offset":0.1346,"color":"#5a5a5a"},{"offset":0.1346,"color":"#1c1c1c"},
{"offset":0.1538,"color":"#1c1c1c"},{"offset":0.1538,"color":"#5a5a5a"},
{"offset":0.1731,"color":"#5a5a5a"},{"offset":0.1731,"color":"#1c1c1c"},
{"offset":0.1923,"color":"#1c1c1c"},{"offset":0.1923,"color":"#5a5a5a"},
{"offset":0.2115,"color":"#5a5a5a"},{"offset":0.2115,"color":"#1c1c1c"},
{"offset":0.2308,"color":"#1c1c1c"},{"offset":0.2308,"color":"#5a5a5a"},
{"offset":0.25,"color":"#5a5a5a"},{"offset":0.25,"color":"#1c1c1c"},
{"offset":0.2692,"color":"#1c1c1c"},{"offset":0.2692,"color":"#5a5a5a"},
{"offset":0.2885,"color":"#5a5a5a"},{"offset":0.2885,"color":"#1c1c1c"},
{"offset":0.3077,"color":"#1c1c1c"},{"offset":0.3077,"color":"#5a5a5a"},
{"offset":0.3269,"color":"#5a5a5a"},{"offset":0.3269,"color":"#1c1c1c"},
{"offset":0.3462,"color":"#1c1c1c"},{"offset":0.3462,"color":"#5a5a5a"},
{"offset":0.3654,"color":"#5a5a5a"},{"offset":0.3654,"color":"#1c1c1c"},
{"offset":0.3846,"color":"#1c1c1c"},{"offset":0.3846,"color":"#5a5a5a"},
{"offset":0.4038,"color":"#5a5a5a"},{"offset":0.4038,"color":"#1c1c1c"},
{"offset":0.4231,"color":"#1c1c1c"},{"offset":0.4231,"color":"#5a5a5a"},
{"offset":0.4423,"color":"#5a5a5a"},{"offset":0.4423,"color":"#1c1c1c"},
{"offset":0.4615,"color":"#1c1c1c"},{"offset":0.4615,"color":"#5a5a5a"},
{"offset":0.4808,"color":"#5a5a5a"},{"offset":0.4808,"color":"#1c1c1c"},
{"offset":0.5,"color":"#1c1c1c"},{"offset":0.5,"color":"#5a5a5a"},
{"offset":0.5192,"color":"#5a5a5a"},{"offset":0.5192,"color":"#1c1c1c"},
{"offset":0.5385,"color":"#1c1c1c"},{"offset":0.5385,"color":"#5a5a5a"},
{"offset":0.5577,"color":"#5a5a5a"},{"offset":0.5577,"color":"#1c1c1c"},
{"offset":0.5769,"color":"#1c1c1c"},{"offset":0.5769,"color":"#5a5a5a"},
{"offset":0.5962,"color":"#5a5a5a"},{"offset":0.5962,"color":"#1c1c1c"},
{"offset":0.6154,"color":"#1c1c1c"},{"offset":0.6154,"color":"#5a5a5a"},
{"offset":0.6346,"color":"#5a5a5a"},{"offset":0.6346,"color":"#1c1c1c"},
{"offset":0.6538,"color":"#1c1c1c"},{"offset":0.6538,"color":"#5a5a5a"},
{"offset":0.6731,"color":"#5a5a5a"},{"offset":0.6731,"color":"#1c1c1c"},
{"offset":0.6923,"color":"#1c1c1c"},{"offset":0.6923,"color":"#5a5a5a"},
{"offset":0.7115,"color":"#5a5a5a"},{"offset":0.7115,"color":"#1c1c1c"},
{"offset":0.7308,"color":"#1c1c1c"},{"offset":0.7308,"color":"#5a5a5a"},
{"offset":0.75,"color":"#5a5a5a"},{"offset":0.75,"color":"#1c1c1c"},
{"offset":0.7692,"color":"#1c1c1c"},{"offset":0.7692,"color":"#5a5a5a"},
{"offset":0.7885,"color":"#5a5a5a"},{"offset":0.7885,"color":"#1c1c1c"},
{"offset":0.8077,"color":"#1c1c1c"},{"offset":0.8077,"color":"#5a5a5a"},
{"offset":0.8269,"color":"#5a5a5a"},{"offset":0.8269,"color":"#1c1c1c"},
{"offset":0.8462,"color":"#1c1c1c"},{"offset":0.8462,"color":"#5a5a5a"},
{"offset":0.8654,"color":"#5a5a5a"},{"offset":0.8654,"color":"#1c1c1c"},
{"offset":0.8846,"color":"#1c1c1c"},{"offset":0.8846,"color":"#5a5a5a"},
{"offset":0.9038,"color":"#5a5a5a"},{"offset":0.9038,"color":"#1c1c1c"},
{"offset":0.9231,"color":"#1c1c1c"},{"offset":0.9231,"color":"#5a5a5a"},
{"offset":0.9423,"color":"#5a5a5a"},{"offset":0.9423,"color":"#1c1c1c"},
{"offset":0.9615,"color":"#1c1c1c"},{"offset":0.9615,"color":"#5a5a5a"},
{"offset":0.9808,"color":"#5a5a5a"},{"offset":0.9808,"color":"#1c1c1c"},
{"offset":1,"color":"#1c1c1c"}]}}, "encoding": {"y":{"field":"tot","type":"quantitative"},"y2":{"field":"apo"}}},
        {"mark": {"type":"rule","color":"#333","strokeWidth":1.2,"opacity":0.7}, "encoding": {"y":{"field":"apo","type":"quantitative"},"y2":{"field":"ie"}}},
        {"mark": {"type":"tick","orient":"horizontal","size":22,"thickness":1.2,"color":"#333","opacity":0.7}, "encoding": {"y":{"field":"ie","type":"quantitative"}}},
        {"mark": {"type":"rule","color":"#333","strokeWidth":1.5}, "encoding": {"y":{"field":"tot","type":"quantitative"},"y2":{"field":"et"}}},
        {"mark": {"type":"tick","orient":"horizontal","size":25,"thickness":1.5,"color":"#333"}, "encoding": {"y":{"field":"et","type":"quantitative"}}}
      ]
    },
    {
      "data": {"name": "sig"},
      "transform": [{"filter": "datum.panel == 'D'"}],
      "layer": [
        {"mark": {"type":"rule","color":"#333","strokeWidth":1.5}, "encoding": {"x":{"field":"xa","type":"quantitative"},"y":{"field":"ya","type":"quantitative"},"y2":{"field":"yh"}}},
        {"mark": {"type":"rule","color":"#333","strokeWidth":1.5}, "encoding": {"x":{"field":"xb","type":"quantitative"},"y":{"field":"yb","type":"quantitative"},"y2":{"field":"yh"}}},
        {"mark": {"type":"rule","color":"#333","strokeWidth":1.5}, "encoding": {"x":{"field":"xa","type":"quantitative"},"x2":{"field":"xb"},"y":{"field":"yh","type":"quantitative"}}},
        {"mark": {"type":"text","font":"DejaVu Sans","fontSize":9,"color":"#333","baseline":"middle"}, "encoding": {"x":{"field":"xm","type":"quantitative"},"y":{"field":"yl","type":"quantitative"},"text":{"field":"lab"}}}
      ]
    },
    {"data": {"name":"cells"}, "transform": [{"filter": "datum.panel == 'D'"}], "mark": {"type":"text","align":"right","baseline":"middle","fontSize":16.5,"color":"#333","dy":1}, "encoding": {"x":{"datum":4.5,"type":"quantitative"},"y":{"datum":40,"type":"quantitative"},"text":{"field":"cell"}}},
    {"data": {"name":"key"}, "transform":[{"filter":"false"}], "mark": {"type":"point","shape":"square","filled":true,"opacity":1,"fill":"#ffffff","stroke":"#333","strokeWidth":1}, "encoding": {"shape": {"field":"type","type":"nominal","scale":{"domain":["Apoptosis"],"range":["square"]},"legend":{"legendY":-7}}}},
    {"data": {"name":"key"}, "transform":[{"filter":"false"}], "mark": {"type":"point","shape":"square","filled":true,"opacity":1,"stroke":"#333","strokeWidth":1,"fill":{"gradient":"linear","x1":0,"y1":0,"x2":1,"y2":1,"stops":[
{"offset":0,"color":"#fff"},
{"offset":0.125,"color":"#fff"},{"offset":0.125,"color":"#222"},
{"offset":0.25,"color":"#222"},{"offset":0.25,"color":"#fff"},
{"offset":0.375,"color":"#fff"},{"offset":0.375,"color":"#222"},
{"offset":0.5,"color":"#222"},{"offset":0.5,"color":"#fff"},
{"offset":0.625,"color":"#fff"},{"offset":0.625,"color":"#222"},
{"offset":0.75,"color":"#222"},{"offset":0.75,"color":"#fff"},
{"offset":0.875,"color":"#fff"},{"offset":0.875,"color":"#222"},
{"offset":1,"color":"#222"}]}}, "encoding": {"shape": {"field":"type","type":"nominal","scale":{"domain":["Necrosis"],"range":["square"]},"legend":{"legendY":14}}}}
  ]
}
]
}
